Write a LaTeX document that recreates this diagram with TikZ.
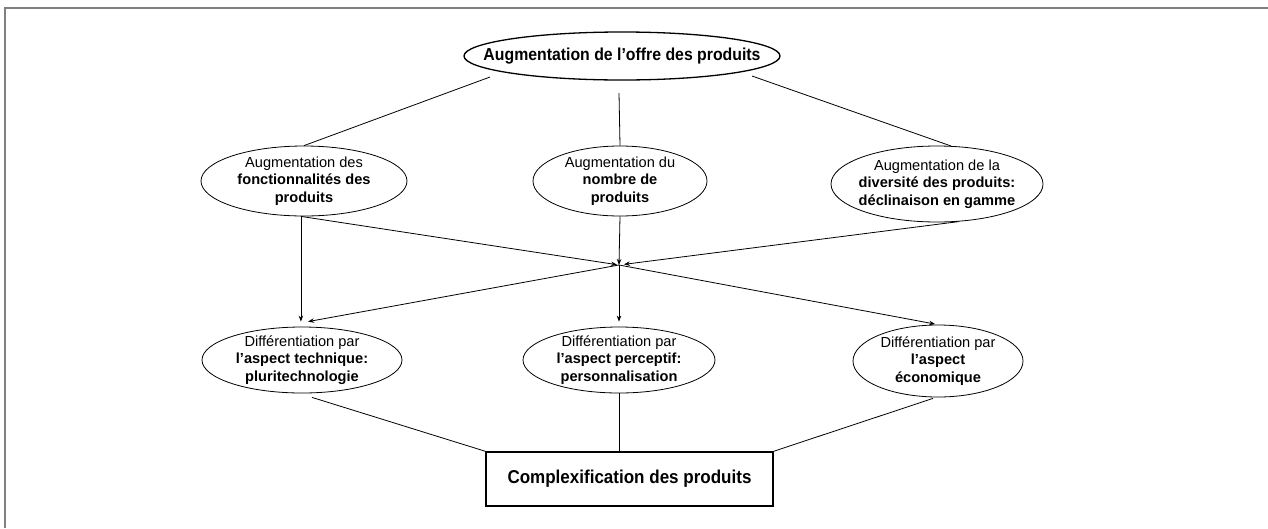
\documentclass[tikz,border=0pt]{standalone}
\usepackage{fontspec}
\usepackage{graphicx}
\setmainfont{Liberation Sans}
\usetikzlibrary{shapes.geometric,arrows.meta,calc}
\newcommand{\narrowtxt}[1]{\scalebox{0.915}[1]{#1}}
\begin{document}
\begin{tikzpicture}[x=1pt,y=-1pt,
  every node/.style={font=\fontsize{14.6}{17.5}\selectfont},
  oval/.style={draw, ellipse, inner xsep=-15pt, inner ysep=-5pt, align=center, line width=0.8pt},
  topfont/.style={font=\bfseries\fontsize{17.3}{20}\selectfont},
  boxfont/.style={font=\bfseries\fontsize{18.6}{20}\selectfont},
  conn/.style={line width=0.8pt},
  arr/.style={conn, -{Stealth[length=6pt,width=4.5pt]}},
  framel/.style={draw=gray, line width=2pt}]
\useasboundingbox (0,0) rectangle (1268,528);
\draw[framel] (4.5,528) -- (4.5,7.5) -- (1268,7.5);

\node[oval, topfont, line width=1.3pt, minimum width=316pt, minimum height=48pt, inner xsep=-40pt] (top) at (622,56) {\narrowtxt{Augmentation de l’offre des produits}};

\node[oval, minimum width=206pt, minimum height=70pt] (ml) at (304,181) {Augmentation des\\\textbf{fonctionnalités des}\\\textbf{produits}};
\node[oval, minimum width=174pt, minimum height=70pt] (mm) at (620,181) {Augmentation du\\\textbf{nombre de}\\\textbf{produits}};
\node[oval, minimum width=212pt, minimum height=76pt] (mr) at (937,184) {Augmentation de la\\\textbf{diversité des produits:}\\\textbf{déclinaison en gamme}};

\node[oval, minimum width=200pt, minimum height=66pt] (bl) at (302,360) {Différentiation par\\\textbf{l’aspect technique:}\\\textbf{pluritechnologie}};
\node[oval, minimum width=192pt, minimum height=66pt] (bm) at (619,360) {Différentiation par\\\textbf{l’aspect perceptif:}\\\textbf{personnalisation}};
\node[oval, minimum width=170pt, minimum height=72pt] (br) at (938,361) {Différentiation par\\\textbf{l’aspect}\\\textbf{économique}};

\node[draw, line width=1.5pt, boxfont, minimum width=287pt, minimum height=54pt] (box) at (629.5,479) {\narrowtxt{Complexification des produits}};

\coordinate (c) at (619,265);

% top connectors
\draw[conn] ($(top.center)+(-132,21)$) -- (ml.north);
\draw[conn] ($(top.center)+(-3,37)$) -- (mm.north);
\draw[conn] ($(top.center)+(130,20)$) -- (mr.70);

% arrows to the converging point
\draw[arr, shorten >=2pt] (ml.265) -- (c);
\draw[arr] (mm.south) -- (c);
\draw[arr, shorten >=5pt] (mr.-60) -- (c);

% arrows down
\draw[arr, shorten >=5pt] (ml.265) -- (ml.265 |- bl.north);
\draw[arr, shorten >=5pt] (c) -- (bm.north);
\draw[arr] (c) -- ($(bl.north)+(6,-5)$);
\draw[arr, shorten >=3pt] (c) -- (br.north);

% bottom connectors
\draw[conn] ($(bl.south)+(10,4)$) -- (box.north west);
\draw[conn] (bm.south) -- (bm.south |- box.north);
\draw[conn] ($(br.south)+(-5,1)$) -- (box.north east);
\end{tikzpicture}
\end{document}
